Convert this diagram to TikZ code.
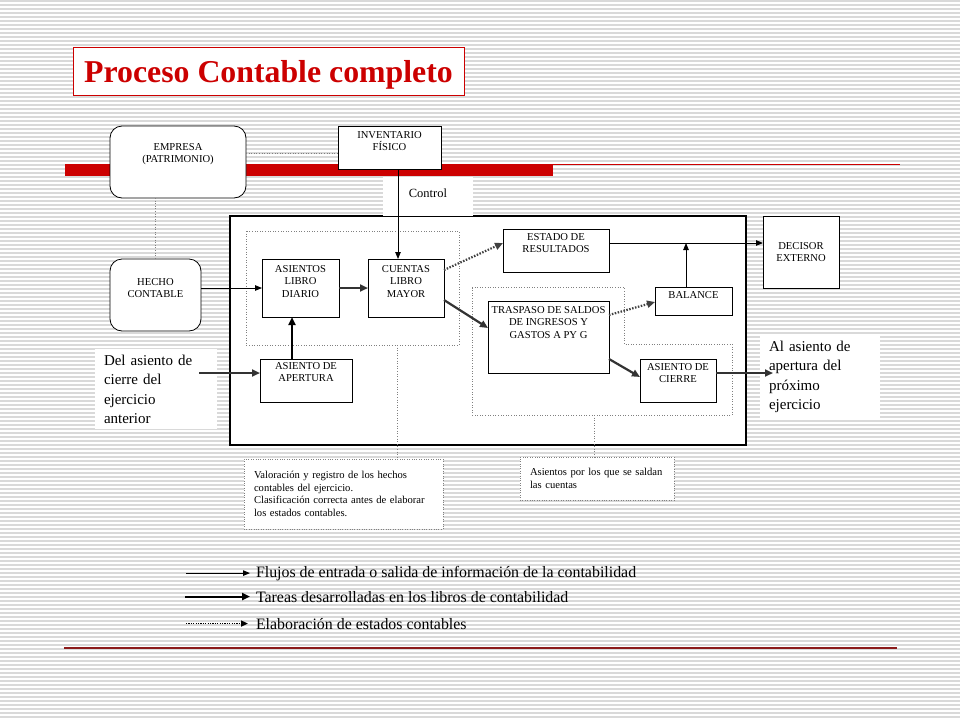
\documentclass[tikz,border=0pt]{standalone}
\usepackage{fontspec}
\setmainfont{Liberation Serif}
\usetikzlibrary{arrows.meta}
\definecolor{rojo}{HTML}{CC0000}
\definecolor{rojooscuro}{HTML}{8B1A1A}
\definecolor{raya}{HTML}{D9D9D9}
\definecolor{guiagris}{HTML}{808080}
\begin{document}
\begin{tikzpicture}[x=1pt,y=-1pt,inner sep=0pt,outer sep=0pt,
caja/.style={draw,rectangle,fill=white,line width=0.8pt},
cajaredonda/.style={caja,rounded corners=12pt},
texto/.style 2 args={label={[anchor=north,yshift=-#1pt,align=center,font=\fontsize{10.6}{12.5}\selectfont]north:{#2}}},
nota/.style={draw=guiagris,dotted,fill=white,align=left,inner xsep=10pt,font=\fontsize{10.6}{12.7}\selectfont},
blanco/.style={fill=white,align=left,anchor=north west,inner xsep=9pt,inner ysep=6pt,font=\fontsize{15}{19.3}\selectfont},
flujo/.style={-{Triangle[length=7pt,width=5.5pt]},line width=0.9pt},
tarea/.style={draw=black!80,-{Triangle[length=8pt,width=7pt]},line width=2.2pt},
estado/.style={draw=black!75,-{Triangle[length=8pt,width=7pt]},line width=2.2pt,dash pattern=on 1.5pt off 1.5pt},
guia/.style={draw=guiagris,dotted,line width=0.6pt},
leyenda/.style={anchor=base west,font=\fontsize{15.9}{18}\selectfont}]
\useasboundingbox (0,0) rectangle (960,720);
% fondo rayado
\foreach \k in {0,...,179} \draw[raya,line width=1.3pt] (0,1+4*\k) -- (960,1+4*\k);
% titulo y barras
\draw (268.5,71) node[draw=rojo,fill=white,line width=0.8pt,minimum width=391pt,minimum height=48pt,text=rojo,text depth=0pt,font=\fontsize{31.8}{36}\selectfont\bfseries] (titulo) {Proceso Contable completo};
\fill[rojo] (65,164) rectangle (553,176);
\draw[rojo,line width=1pt] (553,164.5) -- (900,164.5);
\draw[rojooscuro,line width=2pt] (64,648) -- (897,648);
% recuadros
\draw[line width=1.3pt,fill=white] (230,216) rectangle (746,445);
\draw[guia] (246,231) rectangle (459,345);
\draw[guia] (472,287) -- (624,287) -- (624,344) -- (732,344) -- (732,415) -- (472,415) -- cycle;
% bloques
\draw (178,162) node[cajaredonda,minimum width=136pt,minimum height=72pt,texto={17}{EMPRESA\\(PATRIMONIO)}] (empresa) {};
\draw (389.5,147.5) node[caja,minimum width=103pt,minimum height=43pt,texto={5}{INVENTARIO\\FÍSICO}] (inventario) {};
\draw (155.5,295) node[cajaredonda,minimum width=91pt,minimum height=72pt,texto={19}{HECHO\\CONTABLE}] (hecho) {};
\draw (300.5,288) node[caja,minimum width=77pt,minimum height=58pt,texto={6}{ASIENTOS\\LIBRO\\DIARIO}] (diario) {};
\draw (406,288) node[caja,minimum width=76pt,minimum height=58pt,texto={6}{CUENTAS\\LIBRO\\MAYOR}] (mayor) {};
\draw (306,380.5) node[caja,minimum width=92pt,minimum height=43pt,texto={3}{ASIENTO DE\\APERTURA}] (apertura) {};
\draw (556,250.5) node[caja,minimum width=106pt,minimum height=43pt,texto={4}{ESTADO DE\\RESULTADOS}] (resultados) {};
\draw (801,252) node[caja,minimum width=76pt,minimum height=72pt,texto={26}{DECISOR\\EXTERNO}] (decisor) {};
\draw (693.5,301) node[caja,minimum width=77pt,minimum height=28pt,texto={4}{BALANCE}] (balance) {};
\draw (548.5,337) node[caja,minimum width=121pt,minimum height=72pt,texto={5}{TRASPASO DE SALDOS\\DE INGRESOS Y\\GASTOS A PY G}] (traspaso) {};
\draw (678,380.5) node[caja,minimum width=76pt,minimum height=43pt,texto={4}{ASIENTO DE\\CIERRE}] (cierre) {};
% textos sueltos
\draw (428,196.5) node[fill=white,minimum width=90pt,minimum height=39pt,text depth=7.5pt,font=\fontsize{12.5}{15}\selectfont] (control) {Control};
\draw (95,349) node[blanco,text width=104pt] (del) {Del asiento de\\cierre del\\ejercicio\\anterior};
\draw (760,335) node[blanco,text width=102pt] (al) {Al asiento de\\apertura del\\próximo\\ejercicio};
\draw (343.5,494) node[nota,text width=179pt,minimum height=70pt] (nota1) {Valoración y registro de los hechos\\contables del ejercicio.\\Clasificación correcta antes de elaborar\\los estados contables.};
\draw (597,478.5) node[nota,text width=134pt,minimum height=43pt] (nota2) {Asientos por los que se saldan\\las cuentas};
\coordinate (delfin) at (199,373);
\coordinate (alini) at (773,373);
\coordinate (g1) at (397,345);
\coordinate (g2) at (594,415);
% conexiones
\draw[guia] ([yshift=9pt]empresa.east) -- ([yshift=9pt]empresa.east -| inventario.west);
\draw[guia] (hecho.north |- empresa.south) -- (hecho.north);
\draw[guia] (g1) -- (g1 |- nota1.north);
\draw[guia] (g2) -- (g2 |- nota2.north);
\draw[flujo] (hecho.east |- diario.west) -- (diario.west);
\draw[tarea] (diario.east) -- (mayor.west);
\draw[flujo] ([xshift=8.5pt]inventario.south) -- ([xshift=8.5pt]inventario.south |- mayor.north);
\draw[tarea,draw=black] ([xshift=-14pt]apertura.north) -- ([xshift=-14pt]apertura.north |- diario.south);
\draw[tarea] (delfin) -- (delfin -| apertura.west);
\draw[estado] ([yshift=18pt]mayor.east) -- ([yshift=7.5pt]resultados.west);
\draw[tarea] ([yshift=-12pt]mayor.east) -- ([yshift=9pt]traspaso.west);
\coordinate (r1) at ([yshift=7.5pt]resultados.east);
\draw[flujo] (r1) -- (r1 -| decisor.west);
\draw[flujo] ([xshift=-7.5pt]balance.north) -- ([xshift=-7.5pt]balance.north |- r1);
\draw[estado] ([yshift=22pt]traspaso.east) -- ([yshift=-1pt]balance.west);
\draw[tarea] ([yshift=-22pt]traspaso.east) -- ([yshift=3.5pt]cierre.west);
\draw[tarea] ([yshift=7.5pt]cierre.east) -- (alini);
% leyenda
\draw (256,577) node[leyenda] (ley1) {Flujos de entrada o salida de información de la contabilidad};
\draw (256,602) node[leyenda] (ley2) {Tareas desarrolladas en los libros de contabilidad};
\draw (256,629) node[leyenda] (ley3) {Elaboración de estados contables};
\draw[flujo] ([xshift=-70pt]ley1.west) -- ([xshift=-6pt]ley1.west);
\draw[tarea,draw=black,line width=2pt] ([xshift=-71pt]ley2.west) -- ([xshift=-6pt]ley2.west);
\draw[estado,draw=black,line width=1.6pt,dash pattern=on 1.2pt off 1.2pt,-{Triangle[length=7pt,width=6pt]}] ([xshift=-70pt]ley3.west) -- ([xshift=-8pt]ley3.west);
\end{tikzpicture}
\end{document}
